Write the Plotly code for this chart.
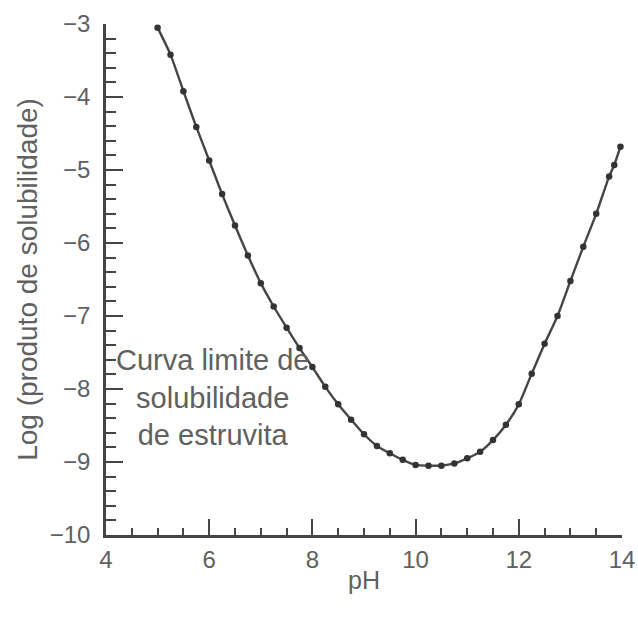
import plotly.graph_objects as go

ph = [5.00, 5.25, 5.50, 5.75, 6.00, 6.25, 6.50, 6.75, 7.00, 7.25, 7.50, 7.75,
      8.00, 8.25, 8.50, 8.75, 9.00, 9.25, 9.50, 9.75, 10.00, 10.25, 10.50, 10.75,
      11.00, 11.25, 11.50, 11.75, 12.00, 12.25, 12.50, 12.75, 13.00, 13.25, 13.50,
      13.75, 13.85, 13.97]
log_ksp = [-3.05, -3.42, -3.92, -4.41, -4.87, -5.33, -5.76, -6.17, -6.55, -6.87, -7.16, -7.44,
           -7.70, -7.97, -8.21, -8.42, -8.62, -8.78, -8.88, -8.97, -9.04, -9.05, -9.05, -9.02,
           -8.95, -8.86, -8.70, -8.49, -8.21, -7.79, -7.38, -7.00, -6.52, -6.05, -5.60,
           -5.09, -4.93, -4.68]

x_ticks = [4, 6, 8, 10, 12, 14]
y_ticks = [-3, -4, -5, -6, -7, -8, -9, -10]

x_title = "pH"
y_title = "Log (produto de solubilidade)"
label = "Curva limite de<br>solubilidade<br>de estruvita"

text_color = "#606060"
line_color = "#454545"
font_family = "Liberation Sans, Arial, sans-serif"

fig = go.Figure()
fig.add_trace(go.Scatter(
    x=ph, y=log_ksp, mode="lines+markers",
    line=dict(color=line_color, width=2.4, shape="spline", smoothing=0.6),
    marker=dict(color="#333333", size=6.5),
    cliponaxis=False, showlegend=False, hoverinfo="x+y",
))

fig.add_annotation(
    x=6.07, y=-8.12, xref="x", yref="y", text=label, showarrow=False,
    font=dict(family=font_family, size=29, color=text_color), align="center",
)

fig.update_layout(
    width=638, height=621,
    margin=dict(l=106, r=16, t=24, b=86),
    paper_bgcolor="white", plot_bgcolor="white",
    font=dict(family=font_family, color=text_color),
    xaxis=dict(
        range=[4, 14], tickvals=x_ticks, ticktext=[str(v) for v in x_ticks],
        ticks="inside", ticklen=16, tickwidth=2, tickcolor=line_color,
        minor=dict(dtick=0.5, tick0=4, ticks="inside", ticklen=7, tickwidth=2, tickcolor=line_color),
        showline=True, linecolor=line_color, linewidth=2.5, showgrid=False, zeroline=False,
        tickfont=dict(size=24, color=text_color), ticklabelstandoff=1,
        title=dict(text=x_title, font=dict(size=25, color=text_color), standoff=0),
        automargin=False,
    ),
    yaxis=dict(
        range=[-10, -3], tickvals=y_ticks, ticktext=["\u2212" + str(-v) for v in y_ticks],
        ticks="inside", ticklen=17, tickwidth=2, tickcolor=line_color,
        minor=dict(dtick=0.2, tick0=-10, ticks="inside", ticklen=10, tickwidth=2, tickcolor=line_color),
        showline=True, linecolor=line_color, linewidth=2.5, showgrid=False, zeroline=False,
        tickfont=dict(size=24, color=text_color), ticklabelstandoff=8,
        title=dict(text=y_title, font=dict(size=28, color=text_color), standoff=4),
        automargin=False,
    ),
)

fig.write_html("out.html")
